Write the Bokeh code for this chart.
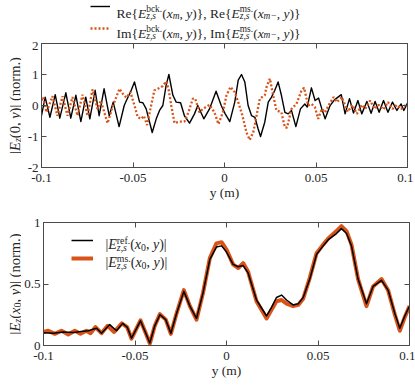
import math
from bokeh.plotting import figure
from bokeh.layouts import column, row
from bokeh.models import (Range1d, FixedTicker, LinearAxis, Label, Legend, LegendItem,
                          CustomJSTickFormatter)
from bokeh.core.properties import value
from bokeh.embed import file_html
from bokeh.resources import INLINE

# ---------------- data ----------------
x_ticks = [-0.1, -0.05, 0.0, 0.05, 0.1]
x_tick_labels = ["-0.1", "-0.05", "0", "0.05", "0.1"]
top_y_ticks = [-2, -1, 0, 1, 2]
top_y_tick_labels = ["-2", "-1", "0", "1", "2"]
bot_y_ticks = [0, 0.5, 1]
bot_y_tick_labels = ["0", "0.5", "1"]
x_axis_title = "y (m)"

re_y = [-0.1, -0.098, -0.0954, -0.0925, -0.09, -0.0867, -0.084, -0.0812, -0.0785, -0.0758,
        -0.0736, -0.0707, -0.0685, -0.0658, -0.063, -0.0608, -0.0576, -0.0548, -0.0536, -0.0514,
        -0.0492, -0.0464, -0.0446, -0.0428, -0.0395, -0.0373, -0.0355, -0.0337, -0.0319, -0.0304,
        -0.0282, -0.0264, -0.024, -0.0219, -0.0191, -0.0164, -0.0146, -0.0113, -0.0082, -0.0046,
        -0.0018, 0.0004, 0.0029, 0.0056, 0.0075, 0.0093, 0.0111, 0.0129, 0.0148, 0.0166,
        0.0184, 0.0197, 0.022, 0.0239, 0.0257, 0.0275, 0.0293, 0.0311, 0.033, 0.0348,
        0.0366, 0.039, 0.0415, 0.0439, 0.0452, 0.0475, 0.0495, 0.0514, 0.0532, 0.055,
        0.0577, 0.0601, 0.0638, 0.0659, 0.0683, 0.0705, 0.0729, 0.075, 0.0778, 0.0801,
        0.0823, 0.0845, 0.0869, 0.0893, 0.0918, 0.0942, 0.0965, 0.098, 0.1]
re_val = [-0.33, 0.27, -0.38, 0.35, -0.41, 0.41, -0.41, 0.33, -0.52, 0.27,
          -0.43, 0.49, -0.33, 0.54, -0.33, 0.11, -0.68, 0.0, 0.16, 0.43,
          0.76, 0.11, 0.09, -0.11, -0.87, -0.43, -0.16, 0.0, 0.65, 1.0,
          0.33, 0.11, 0.09, -0.33, -0.57, -0.27, 0.0, -0.43, -0.11, 0.46,
          0.0, -0.27, -0.52, 0.11, 0.82, 1.0, 0.76, 0.0, -0.33, -0.38,
          -0.76, -1.0, -0.54, 0.11, 0.27, 0.49, 0.76, 0.33, -0.22, -0.27,
          -0.16, -0.68, -0.11, 0.05, -0.05, 0.57, 0.16, 0.24, -0.11, -0.43,
          0.0, 0.18, 0.35, -0.27, 0.22, -0.24, 0.16, -0.27, 0.13, -0.25,
          0.13, -0.22, 0.16, -0.22, 0.11, -0.16, 0.05, -0.16, 0.08]

im_y = [-0.1, -0.0991, -0.0973, -0.094, -0.0913, -0.0885, -0.0858, -0.0831, -0.0803, -0.0776,
        -0.0749, -0.0721, -0.0694, -0.0676, -0.0639, -0.0612, -0.0574, -0.0556, -0.0537, -0.0514,
        -0.0492, -0.0474, -0.0455, -0.0441, -0.0423, -0.0401, -0.0383, -0.0364, -0.0337, -0.0319,
        -0.0306, -0.0291, -0.0273, -0.0246, -0.0219, -0.0197, -0.0173, -0.016, -0.0137, -0.0118,
        -0.0082, -0.0055, -0.0033, -0.0009, 0.0011, 0.0033, 0.0056, 0.0075, 0.0098, 0.012,
        0.0138, 0.0157, 0.0175, 0.0193, 0.022, 0.023, 0.0248, 0.0266, 0.0284, 0.0311,
        0.033, 0.0342, 0.0366, 0.0393, 0.0421, 0.0435, 0.0457, 0.0475, 0.0494, 0.0512,
        0.0532, 0.055, 0.0568, 0.0596, 0.0614, 0.0641, 0.0674, 0.0699, 0.0723, 0.075,
        0.0769, 0.0796, 0.082, 0.0842, 0.0869, 0.0893, 0.0918, 0.0942, 0.0965, 0.0984, 0.1]
im_val = [0.16, 0.27, -0.22, 0.30, -0.33, 0.30, -0.33, 0.27, -0.33, 0.35,
          -0.33, 0.52, -0.11, 0.16, -0.57, -0.05, 0.54, 0.38, 0.25, 0.43,
          0.0, -0.38, -0.43, -0.33, -0.63, 0.0, 0.49, 0.54, 0.63, 0.78,
          0.54, 0.0, -0.57, -0.52, -0.52, -0.22, 0.22, 0.22, -0.22, -0.11,
          0.02, -0.22, -0.60, -0.22, 0.33, 0.60, 0.43, 0.11, -0.33, -0.87,
          -1.11, -0.87, -0.33, 0.22, 0.33, 0.60, 0.87, 0.33, -0.16, -0.22,
          -0.71, -0.71, -0.11, 0.05, 0.49, 0.57, 0.0, 0.05, -0.05, -0.43,
          -0.11, -0.22, 0.0, 0.27, 0.11, 0.27, -0.20, 0.02, -0.27, 0.02,
          -0.11, 0.16, -0.11, 0.02, -0.13, 0.11, -0.11, 0.02, -0.11, 0.0, -0.05]

ref_y = [-0.1, -0.0947, -0.0893, -0.0838, -0.0783, -0.0756, -0.071, -0.0683, -0.0638, -0.0601,
         -0.0568, -0.0543, -0.0519, -0.047, -0.0441, -0.0419, -0.0392, -0.0364, -0.0332, -0.0304,
         -0.0273, -0.0233, -0.02, -0.0164, -0.0128, -0.0091, -0.0055, -0.0027, 0.0, 0.0036,
         0.0064, 0.0091, 0.0118, 0.0164, 0.0219, 0.0246, 0.0273, 0.0301, 0.0328, 0.0364,
         0.0392, 0.0419, 0.0455, 0.0492, 0.0528, 0.0556, 0.0601, 0.0628, 0.0656, 0.0683,
         0.0719, 0.0765, 0.0801, 0.0847, 0.0883, 0.092, 0.0947, 0.0974, 0.1]
ref_val = [0.103, 0.10, 0.11, 0.105, 0.115, 0.12, 0.14, 0.10, 0.17, 0.12,
           0.18, 0.15, 0.06, 0.20, 0.10, 0.02, 0.16, 0.25, 0.21, 0.10,
           0.26, 0.44, 0.32, 0.22, 0.43, 0.70, 0.80, 0.81, 0.76, 0.66,
           0.64, 0.65, 0.59, 0.37, 0.24, 0.31, 0.39, 0.41, 0.37, 0.33,
           0.34, 0.39, 0.54, 0.74, 0.81, 0.86, 0.91, 0.95, 0.91, 0.81,
           0.54, 0.34, 0.48, 0.53, 0.45, 0.26, 0.14, 0.24, 0.32]

ms_y = [-0.1, -0.0974, -0.0938, -0.0902, -0.0865, -0.0829, -0.0798, -0.0765, -0.0743, -0.0716,
        -0.0683, -0.065, -0.0614, -0.0572, -0.0543, -0.0519, -0.047, -0.0441, -0.0419, -0.0392,
        -0.0364, -0.0332, -0.0304, -0.0273, -0.0233, -0.02, -0.0164, -0.0128, -0.0091, -0.0055,
        -0.0027, 0.0, 0.0036, 0.0064, 0.0091, 0.0118, 0.0164, 0.0219, 0.0246, 0.0273,
        0.0301, 0.0328, 0.0364, 0.0392, 0.0419, 0.0455, 0.0492, 0.0528, 0.0556, 0.0601,
        0.0628, 0.0656, 0.0683, 0.0719, 0.0765, 0.0801, 0.0847, 0.0883, 0.092, 0.0947,
        0.0974, 0.1]
ms_val = [0.11, 0.12, 0.095, 0.12, 0.09, 0.12, 0.095, 0.12, 0.10, 0.15,
          0.10, 0.16, 0.11, 0.18, 0.15, 0.055, 0.205, 0.10, 0.015, 0.16,
          0.255, 0.21, 0.095, 0.26, 0.45, 0.32, 0.21, 0.43, 0.71, 0.83,
          0.84, 0.78, 0.66, 0.63, 0.67, 0.60, 0.36, 0.22, 0.29, 0.36,
          0.37, 0.34, 0.32, 0.33, 0.38, 0.55, 0.75, 0.82, 0.87, 0.93,
          0.97, 0.93, 0.82, 0.54, 0.32, 0.48, 0.54, 0.45, 0.25, 0.12,
          0.23, 0.32]

# ---------------- style ----------------
FONT = "Liberation Serif"
TXT = "#262626"
AX = "#4a4a4a"
ORANGE = "#D95319"
TOTAL_W = 413
STRIP_W = 21
LEFT_B = 20

W_R = {' ': 250, '(': 333, ')': 333, ',': 250, '.': 250, '{': 480, '}': 480, '|': 200,
       '0': 500, 'R': 667, 'I': 333, 'E': 611, 'e': 444, 'b': 500, 'c': 444, 'k': 500,
       'm': 778, 's': 389, 'r': 333, 'f': 333, 'n': 500, 'o': 500, '\u2212': 564, 'y': 500}
W_I = {'E': 611, 'x': 444, 'y': 444, 'z': 389, 's': 389, 'm': 722, ',': 250, '\u2212': 675}


def tw(s, italic):
    tab = W_I if italic else W_R
    return sum(tab.get(c, 500) for c in s) / 1000.0


def rich(p, ax, ay, ox, oy, segs, size, angle=0.0, center=False, units="data"):
    """Place a run of text pieces (normal / sub / sup) anchored at (ax, ay) with pixel offsets."""
    ss = size * 0.7
    parts = []
    adv = 0.0
    for seg in segs:
        kind = seg[0]
        if kind == "n":
            t = seg[1]
            lead = len(t) - len(t.lstrip(" "))
            adv += tw(t[:lead], seg[2]) * size
            parts.append((adv, 0.0, t[lead:], seg[2], size))
            adv += tw(t[lead:], seg[2]) * size
        elif kind == "sub":
            parts.append((adv, -0.18 * size, seg[1], seg[2], ss))
            adv += tw(seg[1], seg[2]) * ss
        elif kind == "ss":
            parts.append((adv, -0.22 * size, seg[1], seg[2], ss))
            parts.append((adv, 0.32 * size, seg[3], seg[4], ss))
            adv += max(tw(seg[1], seg[2]), tw(seg[3], seg[4])) * ss
    off = -adv / 2 if center else 0.0
    for a, d, t, it, fs in parts:
        a += off
        if angle:
            dx, dy = ox - d, oy + a
        else:
            dx, dy = ox + a, oy + d
        p.add_layout(Label(x=ax, y=ay, x_offset=dx, y_offset=dy, x_units=units, y_units=units,
                           text=t, angle=angle,
                           text_font=FONT, text_font_style="italic" if it else "normal",
                           text_font_size=f"{fs:.1f}px", text_color=TXT,
                           text_align="left", text_baseline="alphabetic"))


def fmt(ticks, labels):
    return CustomJSTickFormatter(args=dict(tvals=ticks, tlabels=labels),
                                 code="const i = tvals.findIndex(t => Math.abs(t - tick) < 1e-9);"
                                      " return i >= 0 ? tlabels[i] : '';")


def deco_axis(ticks):
    return LinearAxis(ticker=FixedTicker(ticks=ticks), formatter=CustomJSTickFormatter(code="return ''"),
                      major_tick_in=5, major_tick_out=0, minor_tick_line_color=None,
                      major_label_text_font_size="0px", major_label_standoff=0,
                      axis_line_color=AX, major_tick_line_color=AX)


def strip(w, h, xr, yr):
    f = figure(width=w, height=h, x_range=xr, y_range=yr,
               output_backend="svg", toolbar_location=None, x_axis_type=None, y_axis_type=None,
               min_border=0, min_border_left=0, min_border_right=0, min_border_top=0,
               min_border_bottom=0, title=None)
    f.outline_line_color = None
    return f


def make_fig(fh, bt, bb, yr, yt, ylab):
    p = figure(frame_width=366, frame_height=fh, x_range=Range1d(-0.1, 0.1), y_range=yr,
               output_backend="svg", toolbar_location=None,
               min_border_left=LEFT_B, min_border_right=TOTAL_W - STRIP_W - LEFT_B - 366,
               min_border_top=bt, min_border_bottom=bb)
    p.xgrid.visible = False
    p.ygrid.visible = False
    p.outline_line_color = AX
    for ax, ticks, labels in ((p.xaxis[0], x_ticks, x_tick_labels), (p.yaxis[0], yt, ylab)):
        ax.ticker = FixedTicker(ticks=ticks)
        ax.formatter = fmt(ticks, labels)
        ax.major_tick_in = 5
        ax.major_tick_out = 0
        ax.minor_tick_line_color = None
        ax.axis_line_color = AX
        ax.major_tick_line_color = AX
        ax.major_label_text_font = FONT
        ax.major_label_text_font_size = "13px"
        ax.major_label_text_color = TXT
    xa = p.xaxis[0]
    xa.major_label_standoff = 6
    xa.axis_label = x_axis_title
    xa.axis_label_standoff = 0
    xa.axis_label_text_font = FONT
    xa.axis_label_text_font_size = "13.5px"
    xa.axis_label_text_font_style = "normal"
    xa.axis_label_text_color = TXT
    p.yaxis[0].major_label_standoff = 3
    p.add_layout(deco_axis(x_ticks), "above")
    p.add_layout(deco_axis(yt), "right")
    return p


# ---------------- legend strip (top) ----------------
LEG_H = 41
LX0 = 1000.0   # strip coordinates start far from the data, so the proxy lines stay out of view
leg = strip(TOTAL_W, LEG_H, Range1d(LX0, LX0 + TOTAL_W), Range1d(0, LEG_H))
d_re = leg.line(re_y, re_val, line_color="black", line_width=1.4)
d_im = leg.line(im_y, im_val, line_color=ORANGE, line_width=2.3, line_dash="2 2")
for rr, ly in ((d_re, 30.5), (d_im, 8.5)):
    leg.add_layout(Legend(items=[LegendItem(label=value(" "), renderers=[rr])],
                          location=(90, ly), glyph_width=20, glyph_height=10, label_height=10,
                          label_standoff=0, padding=0, spacing=0, margin=0, border_line_color=None,
                          background_fill_alpha=0, label_text_font_size="8px"), "center")

row1 = [("n", "Re{", False), ("n", "E", True), ("ss", "z,s", True, "bck.", False), ("n", "(", False),
        ("n", "x", True), ("sub", "m", True), ("n", ", ", False), ("n", "y", True),
        ("n", ")}, Re{", False), ("n", "E", True), ("ss", "z,s", True, "ms.", False), ("n", "(", False),
        ("n", "x", True), ("sub", "m\u2212", True), ("n", ", ", False), ("n", "y", True), ("n", ")}", False)]
row2 = [("n", "Im{", False), ("n", "E", True), ("ss", "z,s", True, "bck.", False), ("n", "(", False),
        ("n", "x", True), ("sub", "m", True), ("n", ", ", False), ("n", "y", True),
        ("n", ")}, Im{", False), ("n", "E", True), ("ss", "z,s", True, "ms.", False), ("n", "(", False),
        ("n", "x", True), ("sub", "m\u2212", True), ("n", ", ", False), ("n", "y", True), ("n", ")}", False)]
rich(leg, LX0, 0, 116, 28, row1, 13.5)
rich(leg, LX0, 0, 116, 8.5, row2, 13.5)

# ---------------- top plot ----------------
P1_BB = 37
p1 = make_fig(124, 2, P1_BB, Range1d(-2, 2), top_y_ticks, top_y_tick_labels)
p1.line(re_y, re_val, line_color="black", line_width=1.4, line_join="round")
p1.line(im_y, im_val, line_color=ORANGE, line_width=2.3, line_dash="2 2")

yl1 = strip(STRIP_W, 2 + 124 + P1_BB, Range1d(0, STRIP_W), p1.y_range)
ylab1 = [("n", "|", False), ("n", "E", True), ("sub", "z", True), ("n", "(0, ", False),
         ("n", "y", True), ("n", ")| (norm.)", False)]
rich(yl1, 0, 0, 14.5, 0, ylab1, 14.5, angle=math.pi / 2, center=True)

# ---------------- bottom plot ----------------
P2_BB = 37
p2 = make_fig(123, 18, P2_BB, Range1d(0, 1), bot_y_ticks, bot_y_tick_labels)
r_ms = p2.line(ms_y, ms_val, line_color=ORANGE, line_width=4, line_join="round")
r_ref = p2.line(ref_y, ref_val, line_color="black", line_width=1.5, line_join="round")
leg2 = Legend(items=[LegendItem(label=value(" "), renderers=[r_ref]),
                     LegendItem(label=value(" "), renderers=[r_ms])],
              location=(28, 78), glyph_width=22, glyph_height=18, label_height=18,
              label_standoff=0, padding=0, spacing=0, margin=0, border_line_color=None,
              background_fill_alpha=0, label_text_font_size="14px")
p2.add_layout(leg2, "center")

lrow1 = [("n", "|", False), ("n", "E", True), ("ss", "z,s", True, "ref.", False), ("n", "(", False),
         ("n", "x", True), ("sub", "0", False), ("n", ", ", False), ("n", "y", True), ("n", ")|", False)]
lrow2 = [("n", "|", False), ("n", "E", True), ("ss", "z,s", True, "ms.", False), ("n", "(", False),
         ("n", "x", True), ("sub", "0", False), ("n", ", ", False), ("n", "y", True), ("n", ")|", False)]
rich(p2, -0.1, 0, 62, 101, lrow1, 14)
rich(p2, -0.1, 0, 62, 83, lrow2, 14)

yl2 = strip(STRIP_W, 18 + 123 + P2_BB, Range1d(0, STRIP_W), p2.y_range)
ylab2 = [("n", "|", False), ("n", "E", True), ("sub", "z", True), ("n", "(", False), ("n", "x", True),
         ("sub", "0", False), ("n", ", ", False), ("n", "y", True), ("n", ")| (norm.)", False)]
rich(yl2, 0, 0.5, 14.5, 0, ylab2, 14.5, angle=math.pi / 2, center=True)

layout = column(leg, row(yl1, p1), row(yl2, p2))
open("out.html", "w").write(file_html(layout, INLINE))
